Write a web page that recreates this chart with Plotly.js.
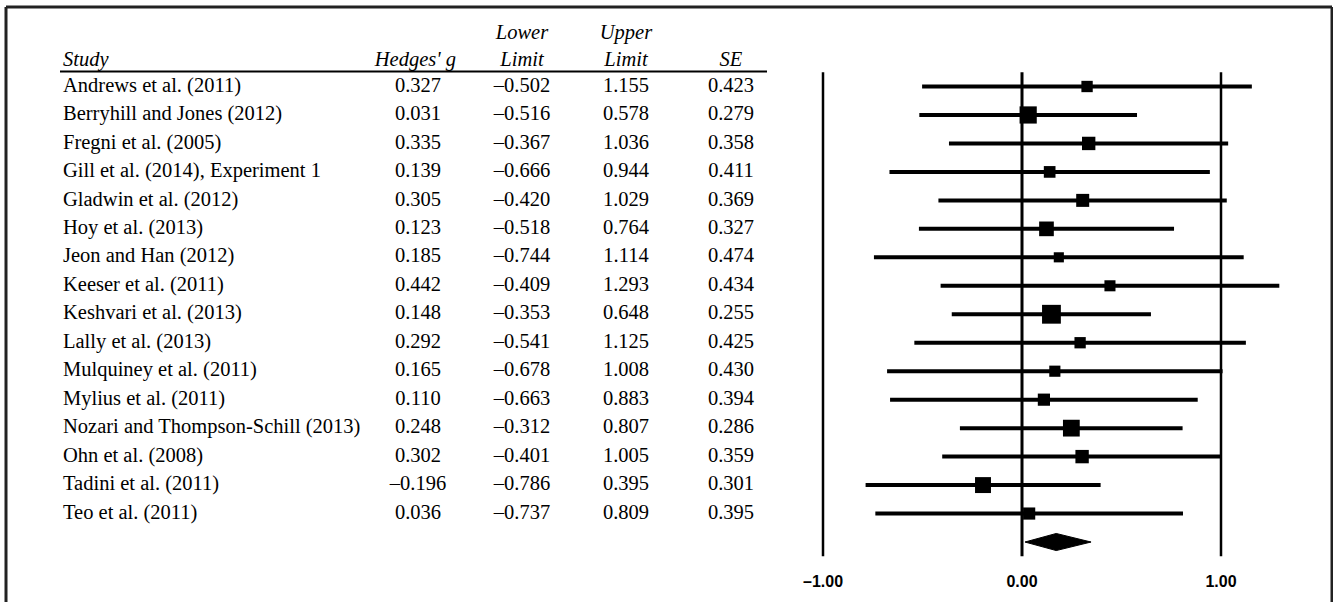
<!DOCTYPE html>
<html>
<head>
<meta charset="utf-8">
<script src="https://cdn.plot.ly/plotly-3.0.1.min.js"></script>
<style>
  html, body { margin: 0; padding: 0; background: #fff; }
  #chart { width: 1333px; height: 602px; }
</style>
</head>
<body>
<div id="chart"></div>
<script>
// ---------- data ----------
const studies = [
  "Andrews et al. (2011)",
  "Berryhill and Jones (2012)",
  "Fregni et al. (2005)",
  "Gill et al. (2014), Experiment 1",
  "Gladwin et al. (2012)",
  "Hoy et al. (2013)",
  "Jeon and Han (2012)",
  "Keeser et al. (2011)",
  "Keshvari et al. (2013)",
  "Lally et al. (2013)",
  "Mulquiney et al. (2011)",
  "Mylius et al. (2011)",
  "Nozari and Thompson-Schill (2013)",
  "Ohn et al. (2008)",
  "Tadini et al. (2011)",
  "Teo et al. (2011)"
];
const hedgesG   = [0.327, 0.031, 0.335, 0.139, 0.305, 0.123, 0.185, 0.442, 0.148, 0.292, 0.165, 0.110, 0.248, 0.302, -0.196, 0.036];
const lowerLimit = [-0.502, -0.516, -0.367, -0.666, -0.420, -0.518, -0.744, -0.409, -0.353, -0.541, -0.678, -0.663, -0.312, -0.401, -0.786, -0.737];
const upperLimit = [1.155, 0.578, 1.036, 0.944, 1.029, 0.764, 1.114, 1.293, 0.648, 1.125, 1.008, 0.883, 0.807, 1.005, 0.395, 0.809];
const stdErr    = [0.423, 0.279, 0.358, 0.411, 0.369, 0.327, 0.474, 0.434, 0.255, 0.425, 0.430, 0.394, 0.286, 0.359, 0.301, 0.395];
// summary (pooled) estimate, read from the diamond
const summaryG = 0.172;
const summaryLower = 0.015;
const summaryUpper = 0.347;
const tickVals = [-1, 0, 1];
const tickLabels = ["\u20131.00", "0.00", "1.00"];

// ---------- layout config ----------
const W = 1333, H = 602;
const plotBottomPx = 570;            // bottom of plot area (px)
const row0Px = 86.5, rowStepPx = 28.47; // row 0 centre & spacing
const zeroPx = 1022, unitPx = 199;    // forest x mapping
const cols = { study: 63, hedgesHead: 456, hedges: 418, lower: 522, upper: 626, se: 731 };
const serif = "'Liberation Serif', 'Times New Roman', serif";
const fs = 20.5;

const rows = studies.map((_, i) => i);
const summaryRow = studies.length;
const fmt = v => v.toFixed(3).replace("-", "\u2013");

const yTop = -row0Px / rowStepPx;
const yBot = (plotBottomPx - row0Px) / rowStepPx;
const xLeft = -zeroPx / unitPx;
const xRight = (W - zeroPx) / unitPx;

const textFont = { family: serif, size: fs, color: "#000" };

function textTrace(xpos, ys, texts, pos) {
  return {
    type: "scatter", mode: "text", xaxis: "x2", yaxis: "y",
    x: ys.map(() => xpos), y: ys, text: texts,
    textposition: pos, textfont: textFont,
    hoverinfo: "skip", showlegend: false, cliponaxis: false
  };
}

const hdr1 = -1.86, hdr2 = -0.91;

const traces = [
  // table body
  textTrace(cols.study, rows, studies, "middle right"),
  textTrace(cols.hedges, rows, hedgesG.map(fmt), "middle center"),
  textTrace(cols.lower, rows, lowerLimit.map(fmt), "middle center"),
  textTrace(cols.upper, rows, upperLimit.map(fmt), "middle center"),
  textTrace(cols.se, rows, stdErr.map(fmt), "middle center"),
  // headers
  textTrace(cols.study, [hdr2], ["<i>Study</i>"], "middle right"),
  textTrace(cols.hedgesHead, [hdr2], ["<i>Hedges' g</i>"], "middle left"),
  textTrace(cols.lower, [hdr1, hdr2], ["<i>Lower</i>", "<i>Limit</i>"], "middle center"),
  textTrace(cols.upper, [hdr1, hdr2], ["<i>Upper</i>", "<i>Limit</i>"], "middle center"),
  textTrace(cols.se, [hdr2], ["<i>SE</i>"], "middle center"),
  // forest: CI bars + weighted squares
  {
    type: "scatter", mode: "markers", xaxis: "x", yaxis: "y",
    x: hedgesG, y: rows,
    marker: { symbol: "square", color: "#000", opacity: 1, size: stdErr.map(s => 4.8 / s), line: { width: 0 } },
    error_x: {
      type: "data", symmetric: false,
      array: upperLimit.map((u, i) => u - hedgesG[i]),
      arrayminus: lowerLimit.map((l, i) => hedgesG[i] - l),
      thickness: 4, width: 0, color: "#000"
    },
    hoverinfo: "skip", showlegend: false
  },
  // summary diamond
  {
    type: "scatter", mode: "lines", xaxis: "x", yaxis: "y",
    x: [summaryLower, summaryG, summaryUpper, summaryG, summaryLower],
    y: [summaryRow, summaryRow - 0.3, summaryRow, summaryRow + 0.3, summaryRow],
    fill: "toself", fillcolor: "#000", line: { color: "#000", width: 1 },
    hoverinfo: "skip", showlegend: false
  }
];

const shapes = [];
// reference lines at tick values
tickVals.forEach(v => {
  shapes.push({
    type: "line", xref: "x", yref: "y", x0: v, x1: v, y0: -0.5, y1: summaryRow + 0.5,
    line: { color: "#000", width: v === 0 ? 3 : 2.5 }, layer: "below"
  });
});
// header underline
shapes.push({
  type: "line", xref: "x2", yref: "y", x0: 60, x1: 767, y0: -0.53, y1: -0.53,
  line: { color: "#000", width: 2 }
});
// outer frame (top, left, right)
const pyTop = (plotBottomPx - 7) / plotBottomPx;
const pyBot = (plotBottomPx - H) / plotBottomPx;
shapes.push({ type: "line", xref: "paper", yref: "paper", x0: 6 / W, x1: 1332 / W, y0: pyTop, y1: pyTop, line: { color: "#222", width: 3 } });
shapes.push({ type: "line", xref: "paper", yref: "paper", x0: 6 / W, x1: 6 / W, y0: pyTop, y1: pyBot, line: { color: "#222", width: 3 } });
shapes.push({ type: "line", xref: "paper", yref: "paper", x0: 1332 / W, x1: 1332 / W, y0: pyTop, y1: pyBot, line: { color: "#222", width: 3 } });

const layout = {
  width: W, height: H,
  margin: { l: 0, r: 0, t: 0, b: H - plotBottomPx, pad: 0 },
  paper_bgcolor: "#fff", plot_bgcolor: "#fff",
  showlegend: false, hovermode: false,
  xaxis: {
    range: [xLeft, xRight], showgrid: false, zeroline: false, showline: false,
    tickmode: "array", tickvals: tickVals, ticktext: tickLabels, ticks: "",
    tickfont: { family: "'Liberation Sans', Arial, sans-serif", size: 16, color: "#000", weight: "bold" },
    fixedrange: true
  },
  xaxis2: { overlaying: "x", range: [0, W], visible: false, fixedrange: true },
  yaxis: {
    range: [yBot, yTop], showgrid: false, zeroline: false, showline: false,
    showticklabels: false, ticks: "", fixedrange: true
  },
  shapes: shapes
};

Plotly.newPlot("chart", traces, layout, { displayModeBar: false, staticPlot: true });
</script>
</body>
</html>
